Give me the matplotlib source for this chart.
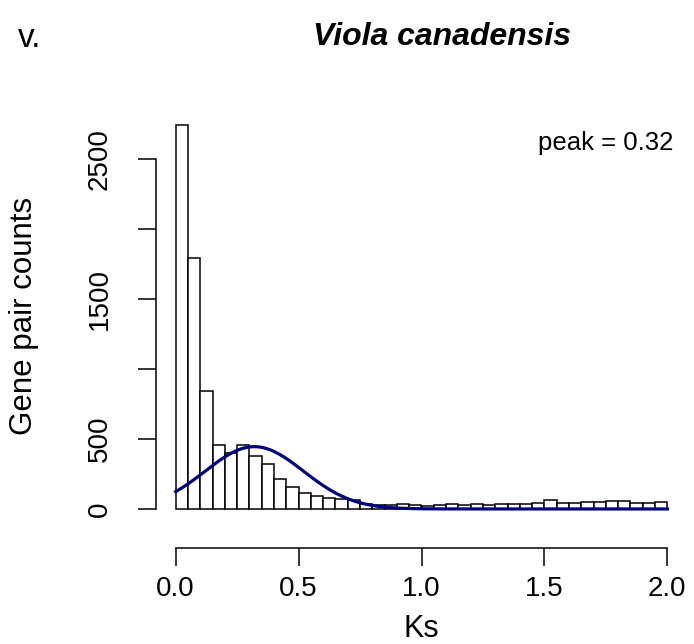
import numpy as np
import matplotlib.pyplot as plt

plt.rcParams['font.family'] = ['Liberation Sans', 'DejaVu Sans']

# histogram of Ks values, bins of width 0.05 from 0 to 2
bin_edges = np.linspace(0, 2, 41)
counts = [2745, 1795, 845, 460, 400, 455, 375, 320, 215, 160,
          112, 90, 78, 70, 62, 35, 28, 30, 38, 30,
          22, 28, 32, 30, 38, 30, 36, 36, 38, 42,
          64, 44, 44, 50, 50, 60, 60, 46, 46, 50]

# fitted normal component
peak = 0.32
peak_sd = 0.2
peak_height = 445

yticks = [0, 500, 1000, 1500, 2000, 2500]
ytick_labels = ['0', '500', '', '1500', '', '2500']
xticks = [0.0, 0.5, 1.0, 1.5, 2.0]
xtick_labels = ['0.0', '0.5', '1.0', '1.5', '2.0']

fig = plt.figure(figsize=(6.94, 6.44), dpi=100)
ax = fig.add_axes([156 / 694, 96 / 644, 531 / 694, 439.4 / 644])

ax.bar(bin_edges[:-1], counts, width=np.diff(bin_edges), align='edge',
       facecolor='white', edgecolor='black', linewidth=1.1)

xs = np.linspace(0, 2, 400)
ax.plot(xs, peak_height * np.exp(-(xs - peak) ** 2 / (2 * peak_sd ** 2)),
        color='#000080', linewidth=2.3)

ax.set_xlim(-0.08, 2.08)
ax.set_ylim(-279, 2860)

for s in ['top', 'right']:
    ax.spines[s].set_visible(False)
ax.spines['left'].set_bounds(0, 2500)
ax.spines['bottom'].set_bounds(0, 2)
ax.spines['left'].set_linewidth(1.1)
ax.spines['bottom'].set_linewidth(1.1)

ax.set_yticks(yticks)
ax.set_yticklabels(ytick_labels, rotation=90, va='center')
ax.set_xticks(xticks)
ax.set_xticklabels(xtick_labels)
ax.tick_params(axis='both', direction='out', length=13, width=1.1, labelsize=20)
ax.tick_params(axis='y', pad=18)
ax.tick_params(axis='x', pad=7)

ax.set_xlabel('Ks', fontsize=22, labelpad=9)
fig.text(24 / 694, 1 - 316 / 644, 'Gene pair counts', rotation=90,
         ha='center', va='center', fontsize=22.5)

fig.text(673 / 694, 1 - 143 / 644, 'peak = %.2f' % peak, fontsize=18.5,
         ha='right', va='center')

fig.text(442 / 694, 1 - 45 / 644, 'Viola canadensis', fontsize=23,
         fontweight='bold', fontstyle='italic', ha='center', va='baseline')
fig.text(18 / 694, 1 - 47 / 644, 'v.', fontsize=24, ha='left', va='baseline')

fig.savefig('out.png', dpi=100)
